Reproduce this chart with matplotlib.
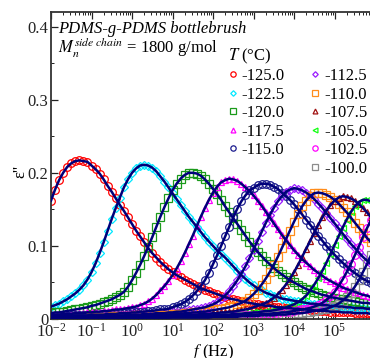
import numpy as np
import matplotlib
matplotlib.use('Agg')
import matplotlib.pyplot as plt
from matplotlib.lines import Line2D
from matplotlib.ticker import LogLocator, MultipleLocator, NullFormatter

plt.rcParams['font.family'] = ['Liberation Serif', 'DejaVu Serif']
plt.rcParams['mathtext.fontset'] = 'stix'

# frequency grid (log10 f, 10 points per decade)
log_f = np.round(np.arange(-2.0, 6.05, 0.1), 1)
freq = 10.0 ** log_f

temps = ['-125.0', '-122.5', '-120.0', '-117.5', '-115.0', '-112.5',
         '-110.0', '-107.5', '-105.0', '-102.5', '-100.0']

eps_m125_0 = [0.162, 0.177, 0.190, 0.200, 0.208, 0.213, 0.216, 0.217, 0.216, 0.215,
              0.210, 0.205, 0.199, 0.191, 0.182, 0.174, 0.165, 0.156, 0.148, 0.139,
              0.130, 0.121, 0.113, 0.105, 0.097, 0.090, 0.084, 0.078, 0.073, 0.068,
              0.064, 0.060, 0.057, 0.054, 0.051, 0.048, 0.045, 0.042, 0.040, 0.038,
              0.036, 0.034, 0.032, 0.030, 0.028, 0.027, 0.026, 0.024, 0.023, 0.022,
              0.021, 0.020, 0.019, 0.018, 0.018, 0.017, 0.016, 0.016, 0.015, 0.015,
              0.014, 0.014, 0.013, 0.013, 0.012, 0.012, 0.011, 0.011, 0.011, 0.010,
              0.010, 0.010, 0.009, 0.009, 0.009, 0.008, 0.008, 0.008, 0.008, 0.007, 0.007]
eps_m122_5 = [0.017, 0.019, 0.021, 0.024, 0.027, 0.031, 0.035, 0.040, 0.046, 0.054,
              0.064, 0.076, 0.090, 0.105, 0.121, 0.137, 0.152, 0.166, 0.180, 0.191,
              0.200, 0.206, 0.210, 0.211, 0.210, 0.207, 0.202, 0.195, 0.188, 0.180,
              0.172, 0.164, 0.156, 0.148, 0.140, 0.133, 0.126, 0.119, 0.112, 0.106,
              0.100, 0.094, 0.089, 0.084, 0.078, 0.072, 0.066, 0.060, 0.055, 0.050,
              0.046, 0.042, 0.039, 0.036, 0.034, 0.032, 0.030, 0.028, 0.027, 0.026,
              0.025, 0.024, 0.023, 0.022, 0.021, 0.021, 0.020, 0.019, 0.019, 0.018,
              0.018, 0.017, 0.017, 0.016, 0.016, 0.015, 0.015, 0.015, 0.014, 0.014, 0.014]
eps_m120_0 = [0.008, 0.009, 0.009, 0.010, 0.011, 0.012, 0.013, 0.014, 0.015, 0.016,
              0.018, 0.019, 0.021, 0.023, 0.025, 0.027, 0.030, 0.033, 0.037, 0.044,
              0.053, 0.063, 0.074, 0.086, 0.099, 0.112, 0.126, 0.140, 0.153, 0.165,
              0.176, 0.185, 0.192, 0.197, 0.200, 0.200, 0.199, 0.196, 0.191, 0.185,
              0.178, 0.171, 0.163, 0.154, 0.146, 0.138, 0.130, 0.122, 0.114, 0.106,
              0.099, 0.092, 0.086, 0.080, 0.075, 0.070, 0.065, 0.061, 0.057, 0.053,
              0.050, 0.047, 0.044, 0.041, 0.039, 0.037, 0.035, 0.033, 0.032, 0.030,
              0.029, 0.028, 0.027, 0.026, 0.025, 0.024, 0.023, 0.022, 0.022, 0.021, 0.020]
eps_m117_5 = [0.006, 0.006, 0.006, 0.007, 0.007, 0.007, 0.008, 0.008, 0.008, 0.009,
              0.009, 0.010, 0.010, 0.011, 0.011, 0.012, 0.013, 0.013, 0.014, 0.015,
              0.016, 0.017, 0.019, 0.021, 0.024, 0.028, 0.033, 0.039, 0.045, 0.052,
              0.060, 0.069, 0.079, 0.090, 0.102, 0.114, 0.127, 0.140, 0.152, 0.163,
              0.173, 0.181, 0.187, 0.190, 0.192, 0.191, 0.189, 0.185, 0.180, 0.175,
              0.169, 0.162, 0.155, 0.147, 0.139, 0.131, 0.123, 0.115, 0.108, 0.101,
              0.094, 0.088, 0.082, 0.077, 0.072, 0.067, 0.063, 0.059, 0.055, 0.052,
              0.049, 0.046, 0.043, 0.041, 0.039, 0.037, 0.035, 0.033, 0.032, 0.030, 0.029]
eps_m115_0 = [0.004, 0.004, 0.004, 0.004, 0.004, 0.005, 0.005, 0.005, 0.005, 0.005,
              0.006, 0.006, 0.006, 0.006, 0.007, 0.007, 0.007, 0.008, 0.008, 0.008,
              0.009, 0.009, 0.010, 0.010, 0.011, 0.011, 0.012, 0.013, 0.013, 0.014,
              0.016, 0.018, 0.020, 0.023, 0.027, 0.032, 0.038, 0.045, 0.053, 0.063,
              0.075, 0.087, 0.100, 0.113, 0.126, 0.139, 0.151, 0.161, 0.169, 0.176,
              0.179, 0.183, 0.185, 0.185, 0.184, 0.181, 0.178, 0.173, 0.168, 0.163,
              0.157, 0.150, 0.143, 0.136, 0.129, 0.122, 0.114, 0.107, 0.100, 0.094,
              0.088, 0.082, 0.077, 0.072, 0.067, 0.063, 0.059, 0.055, 0.052, 0.049, 0.046]
eps_m112_5 = [0.003, 0.003, 0.003, 0.003, 0.003, 0.003, 0.004, 0.004, 0.004, 0.004,
              0.004, 0.004, 0.004, 0.004, 0.005, 0.005, 0.005, 0.005, 0.005, 0.006,
              0.006, 0.006, 0.006, 0.007, 0.007, 0.007, 0.008, 0.008, 0.008, 0.009,
              0.009, 0.010, 0.010, 0.011, 0.012, 0.013, 0.014, 0.015, 0.016, 0.018,
              0.020, 0.023, 0.027, 0.032, 0.038, 0.045, 0.053, 0.062, 0.072, 0.083,
              0.095, 0.107, 0.119, 0.131, 0.142, 0.152, 0.161, 0.168, 0.174, 0.177,
              0.179, 0.178, 0.176, 0.173, 0.169, 0.164, 0.158, 0.152, 0.145, 0.138,
              0.131, 0.124, 0.117, 0.110, 0.103, 0.097, 0.091, 0.085, 0.080, 0.075, 0.070]
eps_m110_0 = [0.002, 0.002, 0.002, 0.002, 0.002, 0.002, 0.003, 0.003, 0.003, 0.003,
              0.003, 0.003, 0.003, 0.003, 0.003, 0.004, 0.004, 0.004, 0.004, 0.004,
              0.004, 0.005, 0.005, 0.005, 0.005, 0.005, 0.006, 0.006, 0.006, 0.006,
              0.007, 0.007, 0.007, 0.008, 0.008, 0.009, 0.009, 0.010, 0.010, 0.011,
              0.012, 0.013, 0.014, 0.015, 0.016, 0.018, 0.020, 0.022, 0.025, 0.029,
              0.034, 0.040, 0.047, 0.055, 0.064, 0.074, 0.085, 0.097, 0.109, 0.121,
              0.133, 0.144, 0.154, 0.162, 0.168, 0.172, 0.173, 0.172, 0.170, 0.167,
              0.163, 0.158, 0.152, 0.146, 0.139, 0.132, 0.125, 0.118, 0.111, 0.105, 0.099]
eps_m107_5 = [0.002, 0.002, 0.002, 0.002, 0.002, 0.002, 0.002, 0.002, 0.002, 0.002,
              0.002, 0.002, 0.002, 0.002, 0.003, 0.003, 0.003, 0.003, 0.003, 0.003,
              0.003, 0.003, 0.003, 0.004, 0.004, 0.004, 0.004, 0.004, 0.005, 0.005,
              0.005, 0.005, 0.005, 0.006, 0.006, 0.006, 0.006, 0.007, 0.007, 0.007,
              0.008, 0.008, 0.009, 0.009, 0.010, 0.010, 0.011, 0.012, 0.013, 0.014,
              0.016, 0.018, 0.020, 0.022, 0.025, 0.029, 0.034, 0.040, 0.047, 0.055,
              0.064, 0.074, 0.085, 0.096, 0.107, 0.118, 0.129, 0.139, 0.148, 0.156,
              0.162, 0.166, 0.168, 0.167, 0.165, 0.162, 0.157, 0.152, 0.146, 0.139, 0.133]
eps_m105_0 = [0.001, 0.001, 0.001, 0.001, 0.001, 0.002, 0.002, 0.002, 0.002, 0.002,
              0.002, 0.002, 0.002, 0.002, 0.002, 0.002, 0.002, 0.002, 0.002, 0.002,
              0.002, 0.002, 0.003, 0.003, 0.003, 0.003, 0.003, 0.003, 0.003, 0.003,
              0.004, 0.004, 0.004, 0.004, 0.004, 0.004, 0.005, 0.005, 0.005, 0.005,
              0.005, 0.006, 0.006, 0.006, 0.006, 0.007, 0.007, 0.007, 0.008, 0.008,
              0.009, 0.009, 0.010, 0.011, 0.011, 0.012, 0.013, 0.014, 0.016, 0.018,
              0.020, 0.023, 0.027, 0.032, 0.039, 0.047, 0.056, 0.066, 0.077, 0.089,
              0.101, 0.113, 0.125, 0.136, 0.146, 0.154, 0.160, 0.163, 0.163, 0.161, 0.158]
eps_m102_5 = [0.001, 0.001, 0.001, 0.001, 0.001, 0.001, 0.001, 0.001, 0.001, 0.001,
              0.001, 0.001, 0.001, 0.001, 0.002, 0.002, 0.002, 0.002, 0.002, 0.002,
              0.002, 0.002, 0.002, 0.002, 0.002, 0.002, 0.002, 0.002, 0.002, 0.002,
              0.003, 0.003, 0.003, 0.003, 0.003, 0.003, 0.003, 0.004, 0.004, 0.004,
              0.004, 0.004, 0.004, 0.004, 0.005, 0.005, 0.005, 0.005, 0.005, 0.006,
              0.006, 0.006, 0.007, 0.007, 0.007, 0.008, 0.008, 0.009, 0.009, 0.010,
              0.011, 0.012, 0.013, 0.014, 0.015, 0.017, 0.019, 0.022, 0.026, 0.031,
              0.037, 0.045, 0.054, 0.064, 0.075, 0.087, 0.099, 0.112, 0.124, 0.135, 0.145]
eps_m100_0 = [0.001, 0.001, 0.001, 0.001, 0.001, 0.001, 0.001, 0.001, 0.001, 0.001,
              0.001, 0.001, 0.001, 0.001, 0.001, 0.001, 0.001, 0.001, 0.001, 0.001,
              0.001, 0.001, 0.001, 0.002, 0.002, 0.002, 0.002, 0.002, 0.002, 0.002,
              0.002, 0.002, 0.002, 0.002, 0.002, 0.002, 0.002, 0.002, 0.002, 0.002,
              0.003, 0.003, 0.003, 0.003, 0.003, 0.003, 0.003, 0.004, 0.004, 0.004,
              0.004, 0.004, 0.005, 0.005, 0.005, 0.005, 0.006, 0.006, 0.006, 0.007,
              0.007, 0.008, 0.008, 0.009, 0.010, 0.011, 0.012, 0.013, 0.014, 0.016,
              0.018, 0.021, 0.025, 0.030, 0.036, 0.044, 0.053, 0.064, 0.075, 0.087, 0.099]

series = [eps_m125_0, eps_m122_5, eps_m120_0, eps_m117_5, eps_m115_0, eps_m112_5,
          eps_m110_0, eps_m107_5, eps_m105_0, eps_m102_5, eps_m100_0]

colors = ['#ff0000', '#00e8ff', '#1a9a1a', '#ff00ff', '#1c1c8e', '#9a1aff',
          '#ff8c1a', '#a01010', '#10ff10', '#ff00ff', '#8c8c8c']
markers = ['o', 'D', 's', '^', 'o', 'D', 's', '^', '<', 'o', 's']
msizes = [5.5, 4.0, 5.5, 5.0, 5.5, 4.0, 5.5, 5.0, 5.0, 5.5, 5.5]
fit_color = '#00007a'

fig = plt.figure(figsize=(3.70, 3.58), dpi=100)
W, H = 370.0, 358.0
x0, x1 = 51.0, 51.0 + 7.98 * 40.5
y0, y1 = 319.0, 12.0
ax = fig.add_axes([x0 / W, (H - y0) / H, (x1 - x0) / W, (y0 - y1) / H])

handles = []
for vals, c, m, ms, t in zip(series, colors, markers, msizes, temps):
    y = np.array(vals)
    xx = freq[:len(y)]
    h, = ax.plot(xx, y, linestyle='none', marker=m, ms=ms, mfc='none',
                 mec=c, mew=0.9, label=t, zorder=2)
    handles.append(h)
for vals in series:
    y = np.array(vals)
    ax.plot(freq[:len(y)], y, color=fit_color, lw=1.8, zorder=3)

ax.set_xscale('log')
ax.set_xlim(1e-2, 10 ** 5.98)
ax.set_ylim(0, 0.42)

ax.xaxis.set_major_locator(LogLocator(base=10, numticks=20))
ax.xaxis.set_minor_locator(LogLocator(base=10, subs=np.arange(2, 10), numticks=50))
ax.xaxis.set_minor_formatter(NullFormatter())
ax.set_yticks([0, 0.1, 0.2, 0.3, 0.4])
ax.set_yticklabels(['0', '0.1', '0.2', '0.3', '0.4'])
ax.yaxis.set_minor_locator(MultipleLocator(0.05))

ax.tick_params(which='both', direction='in', top=True, right=False,
               labelsize=12, colors='#222222')
ax.tick_params(which='major', length=5, width=0.9)
ax.tick_params(which='minor', length=2.5, width=0.7)
ax.tick_params(axis='y', pad=2)
ax.tick_params(axis='x', pad=3)
for s in ax.spines.values():
    s.set_linewidth(1.3)
    s.set_color('#333333')

ax.set_xlabel(r'$f$ (Hz)', fontsize=12, labelpad=1)
ax.set_ylabel("ε''", fontsize=12)
ax.yaxis.set_label_coords(-0.07, 0.48)

ax.text(0.022, 0.945, 'PDMS-g-PDMS bottlebrush', transform=ax.transAxes,
        fontsize=12, style='italic', va='center', ha='left')
ax.text(0.022, 0.882, r'$M_n^{side\ chain}$ = 1800 g/mol', transform=ax.transAxes,
        fontsize=12, va='center', ha='left')

blank = Line2D([], [], linestyle='none', marker='none')
leg_handles = handles[:5] + [blank] + handles[5:]
leg_labels = temps[:5] + [''] + temps[5:]
leg = ax.legend(leg_handles, leg_labels, ncol=2, loc='upper left',
                bbox_to_anchor=(0.523, 0.915), frameon=False, fontsize=12,
                title=r'$T$ (°C)', title_fontsize=12, markerscale=0.7,
                handlelength=0.5, handletextpad=0.3, columnspacing=1.55,
                labelspacing=0.15, borderpad=0.0, alignment='left')

fig.savefig('out.png', dpi=100)
